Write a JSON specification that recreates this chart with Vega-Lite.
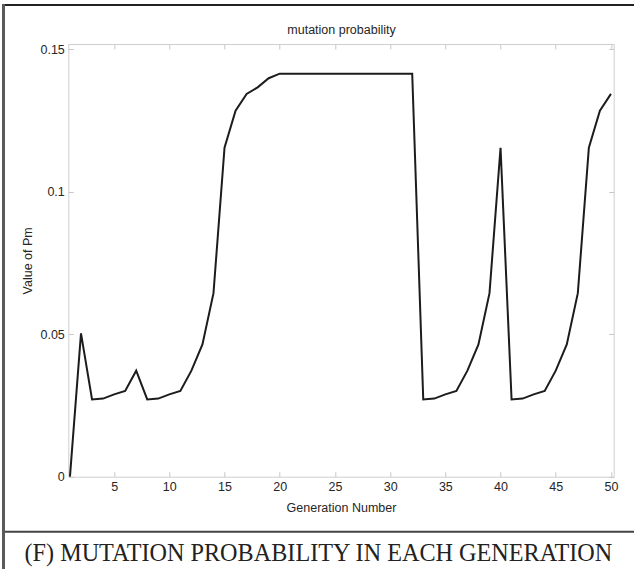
{
  "$schema": "https://vega.github.io/schema/vega-lite/v6.json",
  "width": 545.4,
  "height": 432.7,
  "autosize": {"type": "none"},
  "padding": {"left": 68.3, "top": 44, "right": 20.3, "bottom": 92.3},
  "background": "white",
  "config": {
    "view": {"stroke": "#cfcfcf", "strokeWidth": 1},
    "axis": {
      "domain": false,
      "grid": false,
      "tickColor": "#c8c8c8",
      "tickSize": -5,
      "labelFont": "Liberation Sans",
      "labelFontSize": 12.5,
      "labelColor": "#262626",
      "titleFont": "Liberation Sans",
      "titleFontSize": 12.5,
      "titleFontWeight": "normal",
      "titleColor": "#262626"
    }
  },
  "resolve": {"axis": {"x": "independent", "y": "independent"}},
  "layer": [
    {
      "data": {
        "values": [
          {"gen": 1, "pm": 0.0},
          {"gen": 2, "pm": 0.0503},
          {"gen": 3, "pm": 0.0271},
          {"gen": 4, "pm": 0.0274},
          {"gen": 5, "pm": 0.0289},
          {"gen": 6, "pm": 0.0301},
          {"gen": 7, "pm": 0.0372},
          {"gen": 8, "pm": 0.0271},
          {"gen": 9, "pm": 0.0274},
          {"gen": 10, "pm": 0.0289},
          {"gen": 11, "pm": 0.0301},
          {"gen": 12, "pm": 0.0372},
          {"gen": 13, "pm": 0.0464},
          {"gen": 14, "pm": 0.0644},
          {"gen": 15, "pm": 0.1154},
          {"gen": 16, "pm": 0.1284},
          {"gen": 17, "pm": 0.1343},
          {"gen": 18, "pm": 0.1366},
          {"gen": 19, "pm": 0.1398},
          {"gen": 20, "pm": 0.1414},
          {"gen": 21, "pm": 0.1414},
          {"gen": 22, "pm": 0.1414},
          {"gen": 23, "pm": 0.1414},
          {"gen": 24, "pm": 0.1414},
          {"gen": 25, "pm": 0.1414},
          {"gen": 26, "pm": 0.1414},
          {"gen": 27, "pm": 0.1414},
          {"gen": 28, "pm": 0.1414},
          {"gen": 29, "pm": 0.1414},
          {"gen": 30, "pm": 0.1414},
          {"gen": 31, "pm": 0.1414},
          {"gen": 32, "pm": 0.1414},
          {"gen": 33, "pm": 0.0271},
          {"gen": 34, "pm": 0.0274},
          {"gen": 35, "pm": 0.0289},
          {"gen": 36, "pm": 0.0301},
          {"gen": 37, "pm": 0.0372},
          {"gen": 38, "pm": 0.0464},
          {"gen": 39, "pm": 0.0644},
          {"gen": 40, "pm": 0.1154},
          {"gen": 41, "pm": 0.0271},
          {"gen": 42, "pm": 0.0274},
          {"gen": 43, "pm": 0.0289},
          {"gen": 44, "pm": 0.0301},
          {"gen": 45, "pm": 0.0372},
          {"gen": 46, "pm": 0.0464},
          {"gen": 47, "pm": 0.0644},
          {"gen": 48, "pm": 0.1154},
          {"gen": 49, "pm": 0.1284},
          {"gen": 50, "pm": 0.1343}
        ]
      },
      "mark": {"type": "line", "color": "#1c1c1c", "strokeWidth": 2, "strokeJoin": "miter"},
      "encoding": {
        "x": {
          "field": "gen",
          "type": "quantitative",
          "scale": {"domain": [0.85, 50.25], "nice": false, "zero": false},
          "axis": {
            "orient": "bottom",
            "values": [5, 10, 15, 20, 25, 30, 35, 40, 45, 50],
            "labelPadding": 9,
            "title": "Generation Number",
            "titlePadding": 8
          }
        },
        "y": {
          "field": "pm",
          "type": "quantitative",
          "scale": {"domain": [0, 0.1518], "nice": false, "zero": false},
          "axis": {
            "orient": "left",
            "values": [0, 0.05, 0.1, 0.15],
            "format": "~g",
            "labelPadding": 9,
            "title": "Value of Pm",
            "titlePadding": 5
          }
        }
      }
    },
    {
      "data": {"values": [{}]},
      "mark": {"type": "rule", "color": "#444444", "strokeWidth": 2, "clip": false},
      "encoding": {
        "x": {
          "datum": -5.02,
          "type": "quantitative",
          "axis": {
            "orient": "top",
            "values": [5, 10, 15, 20, 25, 30, 35, 40, 45, 50],
            "labels": false,
            "title": "mutation probability",
            "titlePadding": 7
          }
        },
        "x2": {"datum": 52.5},
        "y": {
          "datum": -0.01929,
          "type": "quantitative",
          "axis": {
            "orient": "right",
            "values": [0, 0.05, 0.1, 0.15],
            "labels": false,
            "title": null
          }
        }
      }
    },
    {
      "data": {"values": [{}]},
      "mark": {"type": "rule", "color": "#222222", "strokeWidth": 2, "clip": false},
      "encoding": {
        "x": {"datum": -5.1, "type": "quantitative", "axis": null},
        "x2": {"datum": 52.5},
        "y": {"datum": 0.1655, "type": "quantitative", "axis": null}
      }
    },
    {
      "data": {"values": [{}]},
      "mark": {"type": "rule", "color": "#5a5a5a", "strokeWidth": 3, "clip": false},
      "encoding": {
        "x": {"datum": -5.02, "type": "quantitative", "axis": null},
        "y": {"datum": 0.1658, "type": "quantitative", "axis": null},
        "y2": {"datum": -0.0335}
      }
    },
    {
      "data": {"values": [{"caption": "(F) MUTATION PROBABILITY IN EACH GENERATION"}]},
      "mark": {
        "type": "text",
        "clip": false,
        "font": "Liberation Serif",
        "fontSize": 24.2,
        "color": "#222222",
        "align": "center",
        "baseline": "middle"
      },
      "encoding": {
        "text": {"field": "caption"},
        "x": {"datum": 23.5, "type": "quantitative", "axis": null},
        "y": {"datum": -0.0272, "type": "quantitative", "axis": null}
      }
    }
  ]
}
